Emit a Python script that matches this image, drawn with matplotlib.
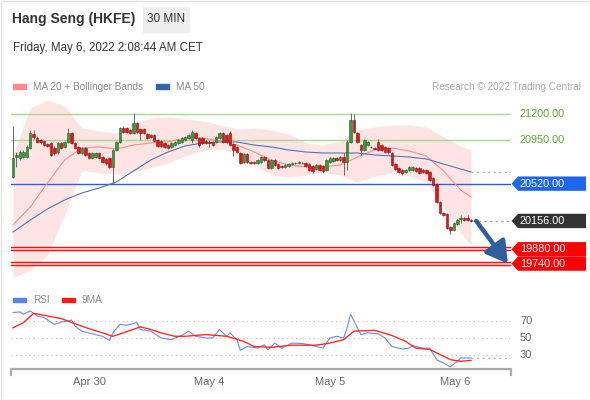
import numpy as np
import matplotlib.pyplot as plt
from matplotlib.patches import Polygon, Rectangle
from matplotlib.transforms import blended_transform_factory

plt.rcParams['font.family'] = ['Liberation Sans', 'DejaVu Sans']

# 30 min candles
opens = [
    20585, 20780, 20771, 20780, 20780, 20868, 21005, 20966, 20946, 20936,
    20907, 20917, 20868, 20829, 20917, 20878, 20927, 21015, 20917, 20878,
    20819, 20868, 20819, 20771, 20780, 20819, 20780, 20761, 20771, 20683,
    20849, 20927, 21063, 21063, 21044, 21015, 21112, 21054, 21054, 21005,
    20995, 20995, 20946, 20936, 20917, 20897, 20878, 20897, 20917, 20927,
    20946, 20966, 20946, 21015, 20966, 20966, 20936, 20927, 20927, 20927,
    20966, 21015, 20995, 21015, 20907, 20878, 20819, 20732, 20810, 20732,
    20732, 20722, 20732, 20780, 20751, 20673, 20751, 20712, 20692, 20683,
    20692, 20712, 20722, 20722, 20722, 20722, 20712, 20692, 20663, 20702,
    20692, 20653, 20732, 20741, 20771, 20751, 20780, 20732, 20927, 21141,
    21015, 20897, 20849, 20897, 20878, 20868, 20927, 20897, 20878, 20868,
    20819, 20712, 20673, 20653, 20634, 20653, 20653, 20673, 20673, 20653,
    20653, 20634, 20575, 20517, 20341, 20234, 20224, 20097, 20068, 20126,
    20175, 20185, 20185, 20165]
highs = [
    21083, 20829, 20849, 20849, 20897, 21044, 21044, 20985, 20956, 20946,
    20917, 20927, 20888, 20927, 20927, 20936, 21063, 21024, 20927, 20888,
    20878, 20878, 20829, 20829, 20829, 20829, 20790, 20771, 20780, 20858,
    20936, 21073, 21083, 21073, 21054, 21210, 21122, 21063, 21063, 21015,
    21005, 21005, 20956, 20946, 20927, 20907, 20927, 20936, 20956, 20976,
    20985, 21005, 21044, 21024, 20976, 20976, 20946, 20946, 20936, 20985,
    21024, 21024, 21005, 21034, 20917, 20888, 20829, 20819, 20819, 20741,
    20741, 20761, 20790, 20790, 20761, 20761, 20761, 20722, 20702, 20712,
    20722, 20732, 20732, 20741, 20732, 20732, 20722, 20702, 20712, 20712,
    20702, 20761, 20780, 20780, 20780, 20790, 20819, 20946, 21210, 21200,
    21024, 20907, 20956, 20936, 20888, 20878, 20956, 20907, 20888, 20878,
    20829, 20722, 20683, 20663, 20663, 20692, 20692, 20683, 20683, 20663,
    20663, 20644, 20585, 20527, 20351, 20244, 20234, 20107, 20146, 20175,
    20214, 20195, 20214, 20175]
lows = [
    20575, 20683, 20751, 20771, 20771, 20858, 20956, 20917, 20907, 20888,
    20878, 20790, 20800, 20810, 20858, 20868, 20917, 20907, 20858, 20810,
    20810, 20790, 20761, 20761, 20771, 20761, 20722, 20702, 20673, 20517,
    20839, 20917, 21015, 21015, 21005, 21005, 21015, 20946, 21005, 20956,
    20966, 20927, 20878, 20878, 20868, 20858, 20868, 20888, 20907, 20917,
    20936, 20956, 20917, 20956, 20878, 20907, 20907, 20878, 20888, 20917,
    20956, 20917, 20917, 20888, 20790, 20819, 20712, 20722, 20722, 20712,
    20712, 20712, 20722, 20741, 20663, 20663, 20692, 20663, 20673, 20673,
    20683, 20702, 20712, 20712, 20712, 20683, 20644, 20624, 20653, 20644,
    20624, 20644, 20722, 20732, 20741, 20741, 20605, 20653, 20917, 21015,
    20917, 20800, 20839, 20888, 20868, 20858, 20839, 20839, 20819, 20810,
    20692, 20653, 20624, 20605, 20624, 20644, 20644, 20634, 20614, 20624,
    20614, 20546, 20497, 20331, 20224, 20204, 20078, 20029, 20058, 20117,
    20136, 20156, 20156, 20146]
closes = [
    20771, 20800, 20829, 20829, 20878, 21015, 20976, 20927, 20927, 20897,
    20888, 20800, 20819, 20917, 20868, 20927, 21015, 20917, 20868, 20819,
    20868, 20800, 20771, 20819, 20819, 20771, 20732, 20722, 20683, 20849,
    20927, 21063, 21024, 21024, 21015, 21112, 21024, 21015, 21015, 20966,
    20976, 20936, 20888, 20888, 20878, 20868, 20917, 20927, 20946, 20966,
    20976, 20995, 21024, 20966, 20897, 20917, 20917, 20917, 20897, 20976,
    21015, 20927, 20927, 20897, 20849, 20829, 20722, 20810, 20732, 20722,
    20722, 20751, 20780, 20751, 20673, 20751, 20702, 20673, 20683, 20702,
    20712, 20722, 20717, 20727, 20717, 20692, 20653, 20644, 20702, 20653,
    20644, 20751, 20771, 20771, 20751, 20780, 20732, 20927, 21141, 21024,
    20927, 20849, 20946, 20927, 20873, 20863, 20849, 20849, 20829, 20829,
    20702, 20663, 20634, 20624, 20653, 20683, 20683, 20644, 20624, 20634,
    20624, 20556, 20507, 20341, 20234, 20214, 20087, 20068, 20136, 20165,
    20185, 20165, 20165, 20156]

# indicators sampled every 5 candles
ma_idx = list(range(0, 131, 5)) + [133]
ma20 = [20117, 20292, 20527, 20751, 20868, 20878, 20858, 20897, 20917, 20927,
        20966, 20966, 20936, 20897, 20829, 20751, 20702, 20683, 20683, 20702,
        20780, 20849, 20868, 20839, 20790, 20644, 20458, 20390]
ma50 = [20048, 20165, 20273, 20361, 20429, 20478, 20536, 20644, 20751, 20829,
        20888, 20917, 20927, 20927, 20897, 20878, 20849, 20829, 20819, 20819,
        20819, 20800, 20790, 20780, 20761, 20712, 20663, 20634]
bb_upper = [20800, 21259, 21337, 21278, 21063, 21034, 21015, 21102, 21161, 21171,
            21151, 21132, 21093, 21054, 21063, 21044, 21005, 20917, 20897, 20936,
            21044, 21073, 21093, 21093, 21073, 20976, 20888, 20849]
bb_lower = [19599, 19677, 19824, 20214, 20653, 20624, 20614, 20634, 20673, 20722,
            20790, 20839, 20858, 20819, 20702, 20605, 20585, 20605, 20634, 20605,
            20536, 20595, 20624, 20595, 20536, 20292, 20039, 19921]

resistances = [21200, 20950]
pivot = 20520
supports = [19880, 19740]

rsi_idx = [0, 2, 3, 5, 7, 9, 12, 14, 16, 17, 18, 20, 22, 24, 26, 28, 29, 31, 33, 36,
           37, 40, 43, 46, 49, 51, 53, 56, 58, 60, 62, 63, 65, 66, 68, 71, 73, 74, 76, 78,
           81, 84, 86, 88, 90, 92, 94, 96, 97, 98, 100, 101, 103, 106, 108, 110, 113, 115,
           116, 119, 121, 123, 125, 127, 129, 130, 133]
rsi_val = [79.9, 80.7, 77.9, 81.9, 75.9, 74, 66, 68.8, 70, 71.2, 64, 58, 56, 54, 52, 47,
           56, 66, 65, 68, 60, 58, 50, 48, 53, 58, 52, 50, 50, 60, 52, 56, 48, 35.5, 40,
           38, 42, 36, 44, 38, 44, 43.5, 42, 40, 38, 50, 52, 50, 62, 78, 62, 54, 56, 55,
           50, 40, 37, 38, 41, 38, 38, 24.5, 20.5, 16, 22.5, 26.5, 26.5]
ma9_idx = [0, 3, 6, 9, 14, 18, 22, 26, 29, 32, 37, 40, 43, 47, 50, 56, 62, 67, 70, 75,
           81, 88, 92, 96, 99, 105, 110, 114, 117, 121, 125, 127, 130, 133]
ma9_val = [62, 68, 79, 76.7, 72.8, 66.8, 61, 56, 52, 56, 63, 60, 56, 52, 52, 54, 52, 46,
           40, 39, 41.5, 41.5, 44, 48, 58, 59, 53, 46, 38, 36.5, 28.5, 24.5, 22.5, 23.7]
rsi_levels = [70, 50, 30]

day_labels = ['Apr 30', 'May 4', 'May 5', 'May 6']
day_pos = [22.1, 56.9, 92.1, 128.4]

XMAX = 144.6

fig = plt.figure(figsize=(5.9, 4.0), dpi=100)
ax = fig.add_axes([11 / 590, 120 / 400, 500 / 590, 185 / 400])
ax2 = fig.add_axes([11 / 590, 31 / 400, 500 / 590, 64 / 400])
for a in (ax, ax2):
    a.set_xlim(-0.58, XMAX)
    a.axis('off')
ax.set_ylim(19580, 21385)
ax2.set_ylim(13.5, 88.8)

xs = np.arange(len(closes))
o = np.array(opens)
c = np.array(closes)

# bollinger band + lines
ax.fill_between(ma_idx, bb_lower, bb_upper, color='#ffe4e4', lw=0, zorder=1)
for r in resistances:
    ax.axhline(r, color='#a9d78e', lw=1, zorder=2)
ax.axhline(pivot, color='#2462e0', lw=1, zorder=2)
for s in supports:
    ax.axhline(s, color='#ff1010', lw=3.2, zorder=2)
    ax.axhline(s, color='#ffe8e8', lw=1.1, zorder=2)
ax.plot(ma_idx, ma20, color='#ff8c8c', lw=0.8, zorder=3)
ax.plot(ma_idx, ma50, color='#4f74b8', lw=0.8, zorder=3)
ax.plot([ma_idx[-1], XMAX], [ma50[-1]] * 2, color='#9fb3dc', lw=1, ls=(0, (1.5, 2.5)), zorder=3)
ax.plot([xs[-1] + 0.6, XMAX], [closes[-1]] * 2, color='#999999', lw=1, ls=(0, (1.5, 2.5)), zorder=3)

# candles
up = c >= o
ax.vlines(xs, lows, highs, color='#666666', lw=0.7, zorder=4)
ax.bar(xs, np.maximum(np.abs(c - o), 8), bottom=np.minimum(o, c), width=0.72,
       color=np.where(up, '#3a9a3a', '#e01515'),
       edgecolor=np.where(up, '#1f5f1f', '#8a1010'), lw=0.4, zorder=5)

# right side labels
tr = blended_transform_factory(ax.transAxes, ax.transData)


def tag(price, color):
    h = 70
    ax.add_patch(Polygon([(1.001, price), (1.014, price + h), (1.15, price + h),
                          (1.15, price - h), (1.014, price - h)], closed=True,
                         transform=tr, facecolor=color, edgecolor='none', clip_on=False))
    ax.text(1.018, price, f'{price:.2f}', transform=tr, color='white', fontsize=7.8,
            va='center', ha='left', clip_on=False)


for r in resistances:
    ax.text(1.018, r, f'{r:.2f}', transform=tr, color='#5fa832', fontsize=7.8,
            va='center', ha='left', clip_on=False)
tag(pivot, '#1f66ee')
tag(closes[-1], '#333333')
for s in supports:
    tag(s, '#ff0000')

ax.annotate('', xy=(xs[-1] + 10.7, supports[1]), xytext=(xs[-1] + 1.5, closes[-1]),
            arrowprops=dict(arrowstyle='-|>,head_width=0.5,head_length=0.85',
                            color='#2d5f9a', lw=3.2, shrinkA=0, shrinkB=0,
                            mutation_scale=15), annotation_clip=False, zorder=6)

# RSI panel
tr2 = blended_transform_factory(ax2.transAxes, ax2.transData)
for lv in rsi_levels:
    ax2.axhline(lv, color='#c0c0c0', lw=0.8, ls=(0, (1, 3)))
    ax2.text(1.018, lv, str(lv), transform=tr2, color='#666666', fontsize=8,
             va='center', ha='left', clip_on=False)
ax2.plot(rsi_idx, rsi_val, color='#6a8ae8', lw=0.8)
ax2.plot([rsi_idx[-1], XMAX], [rsi_val[-1]] * 2, color='#a8bcf0', lw=1, ls=(0, (1.5, 2.5)))
ax2.plot(ma9_idx, ma9_val, color='#ff2a2a', lw=1.0)
ax2.plot([0, 0, 1, 1], [-0.09, 0, 0, -0.09], transform=ax2.transAxes,
         color='#aaaaaa', lw=1.6, clip_on=False)
trd = blended_transform_factory(ax2.transData, ax2.transAxes)
for p, lab in zip(day_pos, day_labels):
    ax2.text(p, -0.2, lab, transform=trd, ha='center', va='center',
             color='#666666', fontsize=8, clip_on=False)

# header, legends
ov = fig.add_axes([0, 0, 1, 1])
ov.set_xlim(0, 590)
ov.set_ylim(400, 0)
ov.axis('off')
ov.add_patch(Rectangle((0.5, 0.5), 589, 399, fill=False, edgecolor='#e3e3e3', lw=1))
ov.text(12, 19.5, 'Hang Seng (HKFE)', fontsize=10, fontweight='bold', color='#333333', va='center')
ov.add_patch(Rectangle((143, 7), 46, 25, color='#eeeeee'))
ov.text(166, 19.5, '30 MIN', fontsize=8.5, ha='center', va='center', color='#333333')
ov.text(13, 48.5, 'Friday, May 6, 2022 2:08:44 AM CET', fontsize=8.3, va='center', color='#333333')
ov.add_patch(Rectangle((13, 84), 13, 4.5, color='#ff8a8a'))
ov.text(33, 86.5, 'MA 20 + Bollinger Bands', fontsize=7.2, color='#888888', va='center')
ov.add_patch(Rectangle((156, 84), 13, 4.5, color='#3563a8'))
ov.text(176, 86.5, 'MA 50', fontsize=7.2, color='#888888', va='center')
ov.text(581, 86.5, 'Research \u00a9 2022 Trading Central', fontsize=7.2, color='#aaaaaa',
        va='center', ha='right')
ov.add_patch(Rectangle((13, 297.5), 13, 4.5, color='#5b80e8'))
ov.text(33, 300, 'RSI', fontsize=7.2, color='#888888', va='center')
ov.add_patch(Rectangle((62, 297.5), 13, 4.5, color='#ff1a1a'))
ov.text(82, 300, '9MA', fontsize=7.2, color='#888888', va='center')

fig.savefig('out.png', dpi=100)
